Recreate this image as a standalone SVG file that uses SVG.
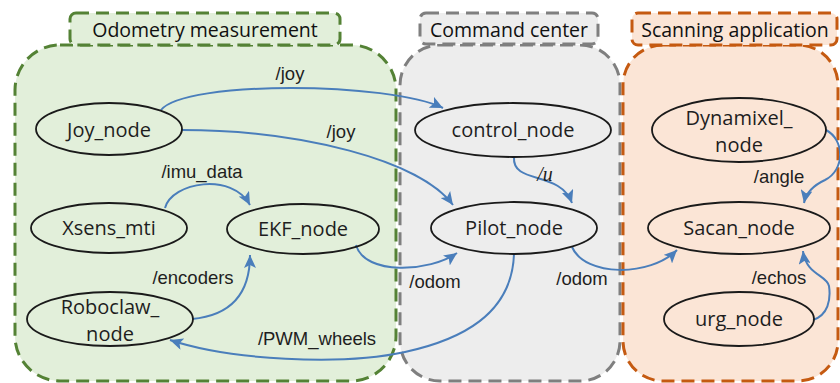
<svg xmlns="http://www.w3.org/2000/svg" width="840" height="383" viewBox="0 0 840 383">
  <style>
    .grp { stroke-width: 3; stroke-dasharray: 13 7; }
    .g-odo { fill: #e2efda; stroke: #548235; }
    .g-cmd { fill: #ededed; stroke: #7f7f7f; }
    .g-scan { fill: #fbe5d6; stroke: #c55a11; }
    .title { font-family: "Open Sans", "Noto Sans", sans-serif; font-size: 19.5px; fill: #111; text-anchor: middle; }
    .node ellipse { fill: none; stroke: #1a1a1a; stroke-width: 1.8; }
    .node text { font-family: "Open Sans", "Noto Sans", sans-serif; font-size: 20px; fill: #1e1e1e; text-anchor: middle; }
    .edge { fill: none; stroke: #4a7ebb; stroke-width: 2; marker-end: url(#arrow); }
    .lbl { font-family: "Liberation Sans", Arial, sans-serif; font-size: 18.5px; fill: #1e1e1e; text-anchor: middle; }
    .math { font-family: "Liberation Serif", "Times New Roman", serif; font-style: italic; font-size: 20px; fill: #1e1e1e; text-anchor: middle; }
  </style>
  <defs>
    <marker id="arrow" markerWidth="14" markerHeight="12" refX="13" refY="6" orient="auto" markerUnits="userSpaceOnUse">
      <path d="M0,0 L13,6 L0,12 L3,6 Z" fill="#4a7ebb"/>
    </marker>
  </defs>

  <!-- Subsystem panels -->
  <g id="group-odometry">
    <rect class="grp g-odo" x="15" y="45" width="381" height="336" rx="45" ry="45"/>
    <rect class="grp g-odo" x="70" y="13" width="270" height="32" rx="6" ry="6"/>
    <text class="title" x="205" y="37">Odometry measurement</text>
  </g>
  <g id="group-command">
    <rect class="grp g-cmd" x="400" y="45" width="220" height="336" rx="40" ry="40"/>
    <rect class="grp g-cmd" x="420" y="13" width="178" height="31" rx="6" ry="6"/>
    <text class="title" x="509" y="37">Command center</text>
  </g>
  <g id="group-scanning">
    <rect class="grp g-scan" x="623" y="45" width="215" height="336" rx="40" ry="40"/>
    <rect class="grp g-scan" x="632" y="13" width="205" height="32" rx="6" ry="6"/>
    <text class="title" x="735" y="37">Scanning application</text>
  </g>

  <!-- Topic connections -->
  <g id="connectors">
    <path class="edge" d="M161,110 C185,80 390,82 443,108"/>
    <path class="edge" d="M182,130 C300,130 420,160 453,205"/>
    <path class="edge" d="M514,157 C512,185 560,170 572,203"/>
    <path class="edge" d="M165,208 C172,182 232,172 250,205"/>
    <path class="edge" d="M192,319 C235,315 250,290 250,255"/>
    <path class="edge" d="M356,245 C365,276 430,272 457,253"/>
    <path class="edge" d="M572,247 C585,277 650,277 677,250"/>
    <path class="edge" d="M514,254 C512,315 460,340 405,352 C340,366 230,360 170,340"/>
    <path class="edge" d="M826,130 C845,140 845,170 825,180 C812,186 806,193 804,203"/>
    <path class="edge" d="M813,320 C828,315 831,300 829,286 C827,275 806,275 803,251"/>
    <text class="lbl" x="290" y="80">/joy</text>
    <text class="lbl" x="341" y="138">/joy</text>
    <text class="lbl" x="202" y="178">/imu_data</text>
    <text class="lbl" x="193" y="284">/encoders</text>
    <text class="lbl" x="435" y="288">/odom</text>
    <text class="math" x="545" y="181">/u</text>
    <text class="lbl" x="582" y="285">/odom</text>
    <text class="lbl" x="779" y="183">/angle</text>
    <text class="lbl" x="779" y="284">/echos</text>
    <text class="lbl" x="317" y="345">/PWM_wheels</text>
  </g>

  <!-- ROS nodes -->
  <g id="joy_node" class="node">
    <ellipse cx="109" cy="129" rx="73" ry="26"/>
    <text x="109" y="137">Joy_node</text>
  </g>
  <g id="xsens_mti" class="node">
    <ellipse cx="109" cy="228" rx="78" ry="25"/>
    <text x="109" y="235">Xsens_mti</text>
  </g>
  <g id="ekf_node" class="node">
    <ellipse cx="303" cy="229" rx="76" ry="25"/>
    <text x="303" y="236">EKF_node</text>
  </g>
  <g id="roboclaw_node" class="node">
    <ellipse cx="110" cy="319" rx="83" ry="27"/>
    <text x="110" y="314">Roboclaw_</text>
    <text x="110" y="341">node</text>
  </g>
  <g id="control_node" class="node">
    <ellipse cx="513" cy="130" rx="98" ry="27"/>
    <text x="513" y="137">control_node</text>
  </g>
  <g id="pilot_node" class="node">
    <ellipse cx="514" cy="228" rx="83" ry="26"/>
    <text x="514" y="235">Pilot_node</text>
  </g>
  <g id="dynamixel_node" class="node">
    <ellipse cx="739" cy="130" rx="87" ry="32"/>
    <text x="739" y="125">Dynamixel_</text>
    <text x="739" y="152">node</text>
  </g>
  <g id="sacan_node" class="node">
    <ellipse cx="739" cy="228" rx="91" ry="26"/>
    <text x="739" y="235">Sacan_node</text>
  </g>
  <g id="urg_node" class="node">
    <ellipse cx="739" cy="319" rx="75" ry="27"/>
    <text x="739" y="326">urg_node</text>
  </g>
</svg>
